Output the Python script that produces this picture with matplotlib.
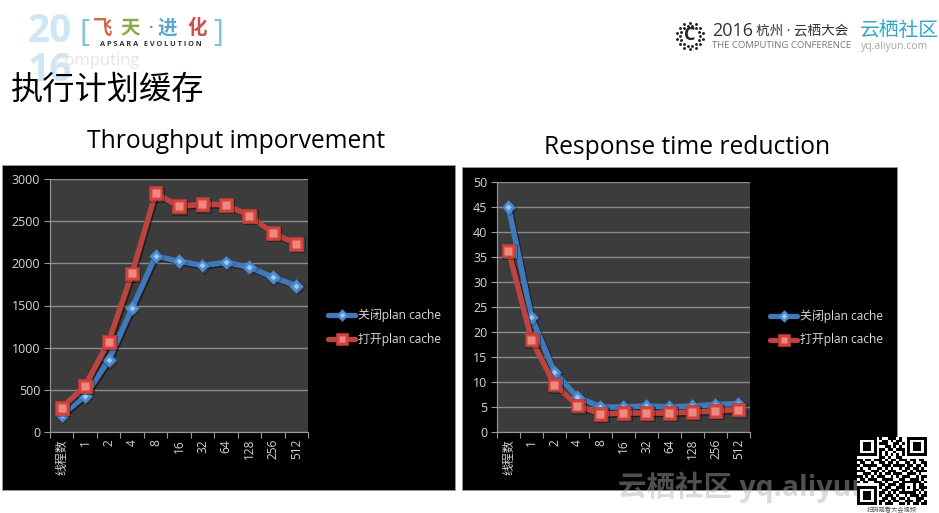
import math
import matplotlib
matplotlib.use("Agg")
import matplotlib.pyplot as plt
import matplotlib.patheffects as pe
from matplotlib.patches import Rectangle

plt.rcParams['font.family'] = ['Open Sans', 'Noto Sans CJK SC', 'DejaVu Sans']

categories = ['线程数', '1', '2', '4', '8', '16', '32', '64', '128', '256', '512']
series_names = ['关闭plan cache', '打开plan cache']
tp_off = [200, 430, 850, 1470, 2085, 2025, 1975, 2010, 1955, 1835, 1735]
tp_on = [285, 550, 1070, 1880, 2830, 2675, 2700, 2695, 2565, 2360, 2230]
rt_off = [45, 23, 12, 7, 5, 5, 5.2, 5, 5.2, 5.5, 5.7]
rt_on = [36.3, 18.5, 9.5, 5.3, 3.6, 3.8, 3.8, 3.8, 4, 4.2, 4.5]
tp_ticks = [0, 500, 1000, 1500, 2000, 2500, 3000]
rt_ticks = [0, 5, 10, 15, 20, 25, 30, 35, 40, 45, 50]
qr_rows = [
    "1111111010011101001111111",
    "1000001001101011001000001",
    "1011101011100110101011101",
    "1011101000110101001011101",
    "1011101011011011101011101",
    "1000001010100100101000001",
    "1111111010101010101111111",
    "0000000011010011000000000",
    "1101101110101101110110110",
    "0110010011011010011010011",
    "1011111001110111101101101",
    "0100100110101001011011010",
    "1110011101011100110101111",
    "0011101010110111001110100",
    "1101010111001010111001011",
    "0110111001111001100111010",
    "1011001110100110111111101",
    "0000000011011101100010110",
    "1111111010110011101010111",
    "1000001001101110100011010",
    "1011101011010101111110101",
    "1011101010111010010111011",
    "1011101001101101101001110",
    "1000001011010110011101101",
    "1111111010111001101011011",
]

W, H = 939, 513
fig = plt.figure(figsize=(W / 100, H / 100), dpi=100, facecolor='white')


def fx(px):
    return px / W


def fy(py):
    return 1 - py / H


def ftext(px, py, s, **kw):
    return fig.text(fx(px), fy(py), s, **kw)


def panel(x0, y0, x1, y1):
    fig.add_artist(Rectangle((fx(x0), fy(y1)), (x1 - x0) / W, (y1 - y0) / H,
                             transform=fig.transFigure, fc='black', ec='#9a9a9a', lw=0.6, zorder=0))


def chart(box, off, on, ticks, ymax):
    x0, y0, x1, y1 = box
    ax = fig.add_axes([fx(x0), fy(y1), (x1 - x0) / W, (y1 - y0) / H], facecolor='#3c3c3c', zorder=2)
    x = list(range(len(categories)))
    ax.set_xlim(-0.5, len(categories) - 0.5)
    ax.set_ylim(0, ymax)
    ax.set_yticks(ticks)
    ax.set_xticks([i - 0.5 for i in range(len(categories) + 1)])
    ax.set_xticklabels([])
    ax.set_xticks(x, minor=True)
    ax.set_xticklabels(categories, minor=True, rotation=90, color='#d4d4d4', fontsize=8.6)
    ax.tick_params(axis='x', which='minor', length=0, pad=5)
    ax.tick_params(axis='x', which='major', length=4, color='#9a9a9a', width=0.8)
    ax.tick_params(axis='y', length=4, color='#9a9a9a', width=0.8, labelcolor='#d8d8d8',
                   labelsize=9, pad=3)
    ax.grid(axis='y', color='#8c8c8c', lw=1)
    ax.set_axisbelow(True)
    for s in ('top', 'right'):
        ax.spines[s].set_visible(False)
    for s in ('left', 'bottom'):
        ax.spines[s].set_color('#9a9a9a')
    shadow = [pe.SimpleLineShadow(offset=(1, -1), shadow_color='black', alpha=0.5), pe.Normal()]
    ax.plot(x, off, color='#3f78bb', lw=4, solid_capstyle='round', path_effects=shadow, zorder=3,
            marker='D', ms=7, mfc='#4f8ccf', mec='#3f78bb', mew=0.4)
    ax.plot(x, off, ls='none', marker='D', ms=3, mfc='#9fc8ee', mec='none', zorder=3.1)
    ax.plot(x, on, color='#bb4340', lw=4, solid_capstyle='round', path_effects=shadow, zorder=4,
            marker='s', ms=10, mfc='#d4423e', mec='#b53a37', mew=0.5)
    ax.plot(x, on, ls='none', marker='s', ms=5.5, mfc='#ec8a80', mec='none', zorder=4.1)
    return ax


def legend_keys(lx, tx, y1, y2):
    axl = fig.add_axes([0, 0, 1, 1], zorder=3)
    axl.set_xlim(0, W)
    axl.set_ylim(H, 0)
    axl.axis('off')
    axl.plot([lx, lx + 27], [y1, y1], color='#3f78bb', lw=3.8, solid_capstyle='round')
    axl.plot([lx + 13.5], [y1], marker='D', ms=6.5, mfc='#4f8ccf', mec='#3f78bb', mew=0.4)
    axl.plot([lx + 13.5], [y1], marker='D', ms=2.8, mfc='#9fc8ee', mec='none')
    axl.plot([lx, lx + 27], [y2, y2], color='#bb4340', lw=3.8, solid_capstyle='round')
    axl.plot([lx + 13.5], [y2], marker='s', ms=9, mfc='#d4423e', mec='#b53a37', mew=0.5)
    axl.plot([lx + 13.5], [y2], marker='s', ms=5, mfc='#ec8a80', mec='none')
    axl.text(tx, y1, series_names[0], color='#d8d8d8', fontsize=8.6, va='center', ha='left')
    axl.text(tx, y2, series_names[1], color='#d8d8d8', fontsize=8.6, va='center', ha='left')
    return axl


panel(2, 165, 455, 490)
panel(462, 167, 897, 490)
chart((50, 179, 308, 432), tp_off, tp_on, tp_ticks, 3000)
chart((497, 182, 750, 432), rt_off, rt_on, rt_ticks, 50)
legend_keys(328, 358, 315, 339)
deco = legend_keys(770, 800, 316, 340)

ftext(236.5, 141, 'Throughput imporvement', fontsize=17.7, color='black', ha='center', va='center')
ftext(687.5, 148, 'Response time reduction', fontsize=17.7, color='black', ha='center', va='center')

# header: left logo
ftext(50, 32, '20', fontsize=28, fontweight='bold', color='#cfe6f4', ha='center', va='center', family='Open Sans')
ftext(50, 71, '16', fontsize=28, fontweight='bold', color='#cfe6f4', ha='center', va='center', family='Open Sans')
ftext(97, 61, 'Computing', fontsize=12, color='#e4e4e4', ha='center', va='center')
ftext(84, 33, '[', fontsize=22, color='#7cc0e0', ha='center', va='center')
ftext(218, 33, ']', fontsize=22, color='#7cc0e0', ha='center', va='center')
for xp, ch, col in [(103, '飞', '#d8654a'), (130, '天', '#8aa84a'), (167, '进', '#58a8cc'), (197, '化', '#c8504c')]:
    ftext(xp, 28, ch, fontsize=14, fontweight='bold', color=col, ha='center', va='center',
          family='Noto Sans CJK SC')
ftext(150, 28, '·', fontsize=11, fontweight='bold', color='#888888', ha='center', va='center', family='Open Sans')
ftext(151, 45, 'A P S A R A   E V O L U T I O N', fontsize=5.3, fontweight='bold', color='#333333',
      ha='center', va='center')
ftext(11, 90, '执行计划缓存', fontsize=23.2, color='black', ha='left', va='center', family='Noto Sans CJK SC')

# header: right logo
for k in range(28):
    a = 2 * math.pi * k / 28
    r = 13 if k % 2 else 10
    deco.plot(690 + r * math.cos(a), 36 + r * math.sin(a), marker='o', ms=2.1, color='#222222', mec='none')
ftext(690, 35, 'C', fontsize=13, fontweight='bold', color='#222222', ha='center', va='center')
ftext(712, 31, '2016', fontsize=13, color='#333333', ha='left', va='center')
ftext(756, 31, '杭州 · 云栖大会', fontsize=9.8, color='#333333', ha='left', va='center')
ftext(712, 46, 'THE COMPUTING CONFERENCE', fontsize=6.8, color='#777777', ha='left', va='center')
ftext(860, 30, '云栖社区', fontsize=14.2, color='#30a8c4', ha='left', va='center', family='Noto Sans CJK SC')
ftext(861, 46, 'yq.aliyun.com', fontsize=7.5, color='#a5a5a5', ha='left', va='center')

# watermark
ftext(618, 487, '云栖社区 yq.aliyun', fontsize=20.5, fontweight='bold', color='#b0b0b0', alpha=0.45,
      ha='left', va='center', zorder=5)

# QR code
axq = fig.add_axes([fx(857), fy(505), 70 / W, 68 / H], zorder=6)
qr = [[1 - int(c) for c in r] for r in qr_rows]
axq.imshow(qr, cmap='gray', vmin=0, vmax=1, interpolation='nearest', aspect='auto')
axq.axis('off')
ftext(892, 510, '扫码观看大会视频', fontsize=4.5, color='#555555', ha='center', va='center', zorder=6)

fig.savefig('out.png', dpi=100, facecolor='white')
